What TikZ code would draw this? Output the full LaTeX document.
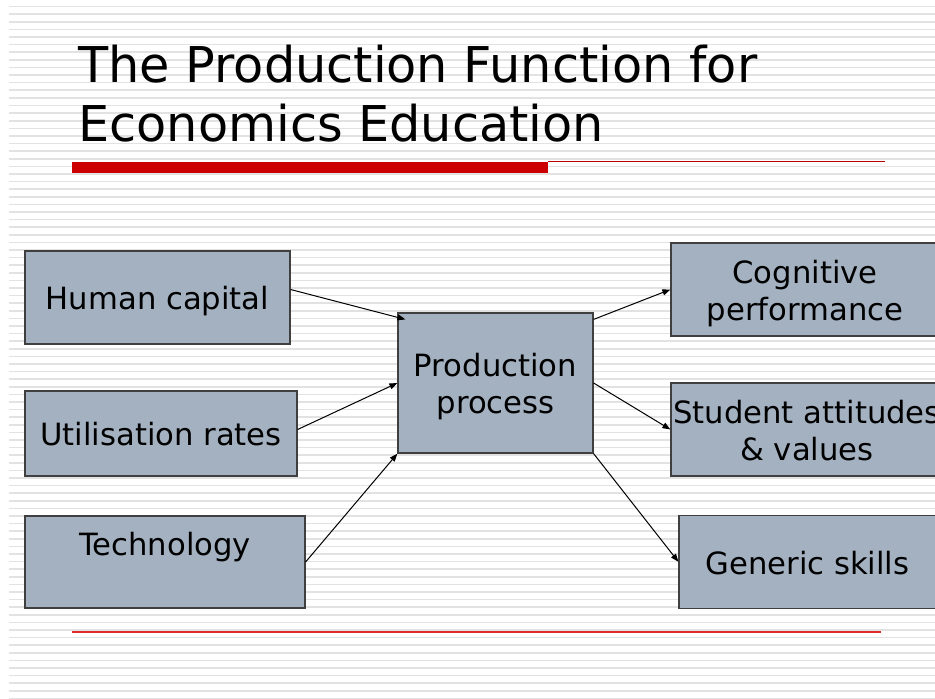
\documentclass[tikz,border=0pt]{standalone}
\usepackage{fontspec}
\setmainfont{DejaVu Sans}
\usepackage{tikz}
\usetikzlibrary{calc,arrows.meta}

\definecolor{boxfill}{HTML}{A3B1C1}
\definecolor{boxline}{HTML}{3F3F3F}
\definecolor{barred}{HTML}{CC0000}
\definecolor{rulered}{HTML}{E02A2A}
\definecolor{stripegray}{HTML}{E2E2E2}

% keeps every text line as tall as a slide text line
\newcommand{\rowstrut}{\rule[-4.8pt]{0pt}{27.9pt}}

\begin{document}
\begin{tikzpicture}[x=0.75pt,y=-0.75pt,
		factor/.style={shape=rectangle,draw=boxline,line width=0.9pt,fill=boxfill,align=center,inner sep=0pt,font=\fontsize{23}{28}\selectfont},
		heading/.style={anchor=base west,inner sep=0pt,font=\fontsize{37}{44}\selectfont},
		link/.style={-{Triangle[length=6pt,width=4.5pt]},line width=0.75pt},
		stripe/.style={draw=stripegray,line width=1.2pt}]
		\clip (0,0) rectangle (935,699);
		\fill[white] (0,0) rectangle (935,699);
		\foreach \y in {0,...,91} {
			\draw[stripe] (9,{6.7+7.6*\y}) -- (935,{6.7+7.6*\y});
		}
		
		% title
		\node[heading] (TitleTop) at (78,82.7) {The Production Function for};
		\node[heading] (TitleBottom) at (78,141) {Economics Education};
		\fill[barred] (72,161.5) rectangle (548,172.5);
		\draw[barred!90!black,line width=0.8pt] (548,161.5) -- (885,161.5);
		\draw[rulered,line width=1.1pt] (72,632) -- (881,632);
		
		% inputs
		\node[factor,minimum width=198.75pt,minimum height=69.75pt] (HumanCapital) at (157.5,297.5) {\rowstrut Human capital};
		\node[factor,minimum width=204pt,minimum height=63.75pt] (Utilisation) at (161,433.5) {\rowstrut Utilisation rates};
		\node[factor,minimum width=210pt,minimum height=69pt] (Technology) at (165,562) {\rowstrut Technology\\\rowstrut};
		
		\node[factor,minimum width=146.25pt,minimum height=105pt] (Production) at (495.5,383) {\rowstrut Production\\\rowstrut process};
		
		% outputs
		\node[factor,minimum width=201pt,minimum height=69.75pt] (Cognitive) at (805,289.5) {\rowstrut Cognitive\\\rowstrut performance};
		\node[factor,minimum width=204pt,minimum height=69.75pt] (Attitudes) at (807,429.5) {\rowstrut Student attitudes\\\rowstrut \& values};
		\node[factor,minimum width=192.75pt,minimum height=69.75pt] (Generic) at (807.5,561.8) {\rowstrut Generic skills};
		
		\draw[link] ($(HumanCapital.east)+(0,-8)$) to ($(Production.north west)+(8,7)$);
		\draw[link] ($(Utilisation.east)+(0,-4)$) to (Production.west);
		\draw[link] (Technology.east) to (Production.south west);
		
		\draw[link] ($(Production.north east)+(0,7)$) to (Cognitive.west);
		\draw[link] (Production.east) to (Attitudes.west);
		\draw[link] (Production.south east) to (Generic.west);
		
	\end{tikzpicture}
\end{document}
